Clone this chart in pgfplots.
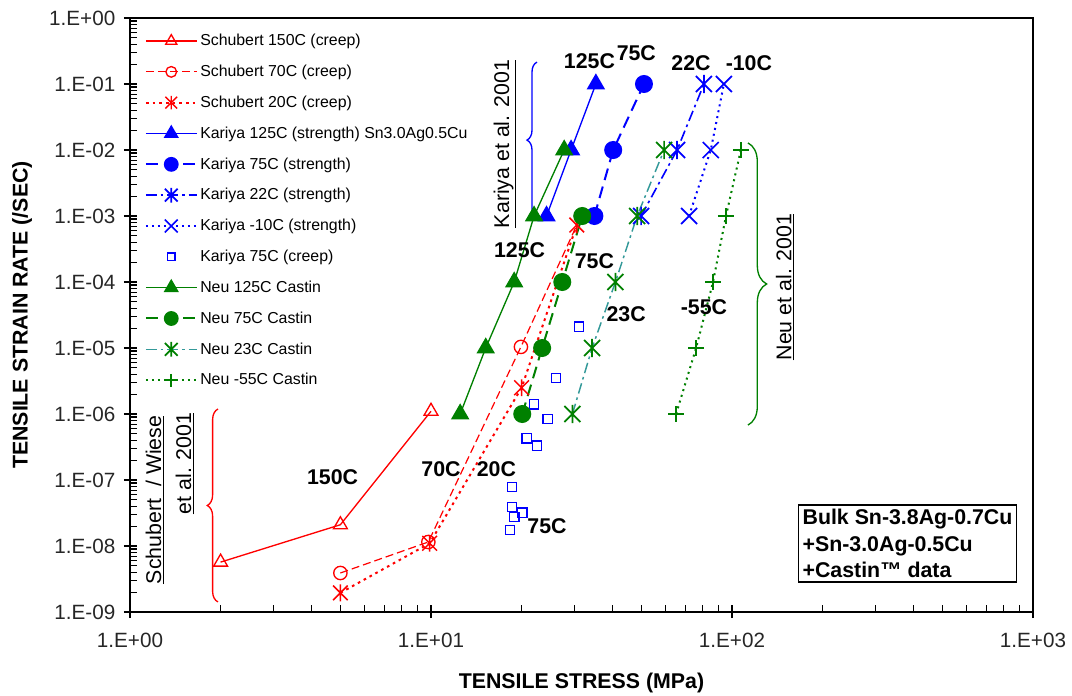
\documentclass[border=0pt]{standalone}
\usepackage{fontspec}
\setmainfont{Liberation Sans}
\usepackage{pgfplots}
\pgfplotsset{compat=1.18}
\usetikzlibrary{decorations.pathreplacing}

\definecolor{xred}{RGB}{255,0,0}
\definecolor{xblue}{RGB}{0,0,255}
\definecolor{xgreen}{RGB}{0,128,0}
\definecolor{xteal}{RGB}{51,153,153}

\pgfdeclareplotmark{bigx}{%
  \pgfpathmoveto{\pgfqpoint{-\pgfplotmarksize}{-\pgfplotmarksize}}%
  \pgfpathlineto{\pgfqpoint{\pgfplotmarksize}{\pgfplotmarksize}}%
  \pgfpathmoveto{\pgfqpoint{-\pgfplotmarksize}{\pgfplotmarksize}}%
  \pgfpathlineto{\pgfqpoint{\pgfplotmarksize}{-\pgfplotmarksize}}%
  \pgfusepathqstroke}
\pgfdeclareplotmark{xstar}{%
  \pgfpathmoveto{\pgfqpoint{-\pgfplotmarksize}{-\pgfplotmarksize}}%
  \pgfpathlineto{\pgfqpoint{\pgfplotmarksize}{\pgfplotmarksize}}%
  \pgfpathmoveto{\pgfqpoint{-\pgfplotmarksize}{\pgfplotmarksize}}%
  \pgfpathlineto{\pgfqpoint{\pgfplotmarksize}{-\pgfplotmarksize}}%
  \pgfpathmoveto{\pgfqpoint{0pt}{-1.15\pgfplotmarksize}}%
  \pgfpathlineto{\pgfqpoint{0pt}{1.15\pgfplotmarksize}}%
  \pgfusepathqstroke}

\newcommand{\lab}{\bfseries\fontsize{16}{19}\selectfont}
\newcommand{\labr}{\fontsize{16}{19}\selectfont}

\begin{document}
\begin{tikzpicture}
\begin{axis}[
  scale only axis, width=677.25pt, height=445.5pt,
  xmode=log, ymode=log,
  xmin=1, xmax=1000, ymin=1e-9, ymax=1,
  xtick={1,10,100,1000},
  xticklabels={1.E+00,1.E+01,1.E+02,1.E+03},
  ytick={1e-9,1e-8,1e-7,1e-6,1e-5,1e-4,1e-3,1e-2,1e-1,1},
  yticklabels={1.E-09,1.E-08,1.E-07,1.E-06,1.E-05,1.E-04,1.E-03,1.E-02,1.E-01,1.E+00},
  tick pos=left, tick align=inside,
  major tick length=9pt, minor tick length=5pt,
  every major x tick/.append style={yshift=-4.5pt},
  every major y tick/.append style={xshift=-4.5pt},
  tick style={black, line width=0.8pt},
  axis line style={line width=1.1pt},
  ticklabel style={font=\fontsize{15.5}{18}\selectfont, text=black!85},
  xticklabel style={yshift=-12pt},
  yticklabel style={xshift=-7.5pt},
  xlabel={TENSILE STRESS (MPa)},
  ylabel={TENSILE STRAIN RATE (/SEC)},
  label style={font=\bfseries\fontsize{16}{19}\selectfont},
  xlabel style={at={(axis description cs:0.5,-0.1195)}, anchor=center},
  ylabel style={at={(axis description cs:-0.1196,0.5)}, anchor=center},
  clip=false,
  legend image code/.code={%
    \draw[mark repeat=2, mark phase=2, #1, every mark/.append style={scale=0.8}]
      plot coordinates {(0pt,0pt) (19pt,0pt) (38pt,0pt)};},
  legend style={at={(axis description cs:0,1)}, anchor=north west,
    xshift=8pt, yshift=-8pt, draw=none, fill=none,
    font=\fontsize{11.9}{14}\selectfont, row sep=9pt},
  legend cell align=left,
]
\coordinate (sw) at (rel axis cs:0,0);
\coordinate (ne) at (rel axis cs:1,1);

% Schubert
\addplot[xred, line width=1pt, mark=triangle, mark size=6pt, mark options={solid, line width=1pt}]
  coordinates {(2,5.7e-9) (5,2.1e-8) (10,1.1e-6)};
\addlegendentry{Schubert 150C (creep)}
\addplot[xred, line width=0.9pt, dash pattern=on 6pt off 3pt, mark=o, mark size=5pt, mark options={solid, line width=1pt}]
  coordinates {(5,3.9e-9) (9.8,1.15e-8) (19.9,1.04e-5) (31.5,1e-3)};
\addlegendentry{Schubert 70C (creep)}
\addplot[xred, line width=1.5pt, dash pattern=on 2pt off 3pt, mark=xstar, mark size=5.5pt, mark options={solid, line width=1.1pt}]
  coordinates {(5,1.95e-9) (9.9,1.1e-8) (20,2.5e-6) (30.5,7.3e-4)};
\addlegendentry{Schubert 20C (creep)}

% Kariya
\addplot[xblue, line width=1pt, mark=triangle*, mark size=7pt, mark options={solid}]
  coordinates {(24.2,1e-3) (29.2,1e-2) (35.3,0.1)};
\addlegendentry{Kariya 125C (strength) Sn3.0Ag0.5Cu}
\addplot[xblue, line width=1.5pt, dash pattern=on 9pt off 5pt, mark=*, mark size=6pt, mark options={solid}]
  coordinates {(34.9,1e-3) (40.3,1e-2) (51,0.1)};
\addlegendentry{Kariya 75C (strength)}
\addplot[xblue, line width=1.2pt, dash pattern=on 8pt off 3pt on 2pt off 3pt, mark=xstar, mark size=6pt, mark options={solid, line width=1.3pt}]
  coordinates {(49.9,1e-3) (65.7,1e-2) (80.7,0.1)};
\addlegendentry{Kariya 22C (strength)}
\addplot[xblue, line width=1.5pt, dash pattern=on 1.5pt off 3pt, mark=bigx, mark size=6pt, mark options={solid, line width=1.3pt}]
  coordinates {(72,1e-3) (85,1e-2) (94,0.1)};
\addlegendentry{Kariya -10C (strength)}
\addplot[xblue, only marks, mark=square, mark size=3.5pt, mark options={solid, line width=1pt}]
  coordinates {(31.0,2.1e-5) (26.0,3.5e-6) (22.0,1.4e-6) (24.4,8.4e-7) (20.8,4.3e-7)
    (22.5,3.3e-7) (18.6,7.8e-8) (18.6,3.9e-8) (20.1,3.2e-8) (18.9,2.75e-8) (18.3,1.75e-8)};
\addlegendentry{Kariya 75C (creep)}

% Neu
\addplot[xgreen, line width=1pt, mark=triangle*, mark size=7pt, mark options={solid}]
  coordinates {(12.5,1e-6) (15.2,1e-5) (18.9,1e-4) (22,1e-3) (27.7,1e-2)};
\addlegendentry{Neu 125C Castin}
\addplot[xgreen, line width=1.5pt, dash pattern=on 9pt off 5pt, mark=*, mark size=6pt, mark options={solid}]
  coordinates {(20.1,1e-6) (23.4,1e-5) (27.3,1e-4) (31.8,1e-3)};
\addlegendentry{Neu 75C Castin}
\addplot[xteal, line width=1.1pt, dash pattern=on 8pt off 3pt on 2pt off 3pt, mark=xstar, mark size=6pt, mark options={solid, draw=xgreen, line width=1.3pt}]
  coordinates {(29.5,1e-6) (34.3,1e-5) (41,1e-4) (48.4,1e-3) (59.5,1e-2)};
\addlegendentry{Neu 23C Castin}
\addplot[xgreen, line width=1.5pt, dash pattern=on 1.5pt off 3pt, mark=+, mark size=6pt, mark options={solid, line width=1.2pt}]
  coordinates {(65.2,1e-6) (76,1e-5) (86.5,1e-4) (95.5,1e-3) (107,1e-2)};
\addlegendentry{Neu -55C Castin}

% braces
\draw[xblue, line width=1pt, decorate, decoration={brace, amplitude=7.5pt}]
  (axis cs:22.5,9.3e-4) -- (axis cs:22.5,0.215);
\draw[xgreen, line width=1pt, decorate, decoration={brace, amplitude=14pt}]
  (axis cs:113,0.0128) -- (axis cs:113,6.8e-7);
\draw[xred, line width=1pt, decorate, decoration={brace, amplitude=8pt}]
  (axis cs:1.96,1.42e-9) -- (axis cs:1.96,1.19e-6);

% group labels
\node[rotate=90, font=\labr] at (axis cs:17.6,0.0123) {\underline{Kariya et al. 2001}};
\node[rotate=90, font=\labr] at (axis cs:150,8.4e-5) {\underline{Neu et al. 2001}};
\node[rotate=90, font=\labr] at (axis cs:1.21,5.0e-8) {\underline{Schubert\ \ / Wiese}};
\node[rotate=90, font=\labr] at (axis cs:1.52,1.78e-7) {\underline{et al. 2001}};

% temperature labels
\node[font=\lab] at (axis cs:4.71,1.12e-7) {150C};
\node[font=\lab] at (axis cs:10.8,1.44e-7) {70C};
\node[font=\lab] at (axis cs:16.5,1.44e-7) {20C};
\node[font=\lab] at (axis cs:24.3,2.0e-8) {75C};
\node[font=\lab] at (axis cs:19.7,3.0e-4) {125C};
\node[font=\lab] at (axis cs:34.9,2.1e-4) {75C};
\node[font=\lab] at (axis cs:44.5,3.2e-5) {23C};
\node[font=\lab] at (axis cs:80.7,4.2e-5) {-55C};
\node[font=\lab] at (axis cs:33.6,0.224) {125C};
\node[font=\lab] at (axis cs:48.1,0.296) {75C};
\node[font=\lab] at (axis cs:73.1,0.21) {22C};
\node[font=\lab] at (axis cs:113.8,0.21) {-10C};

% info box
\node[draw, line width=1pt, align=left, inner sep=3pt,
  font=\bfseries\fontsize{16}{20}\selectfont] at (axis cs:383,1.09e-8)
  {Bulk Sn-3.8Ag-0.7Cu\\+Sn-3.0Ag-0.5Cu\\+Castin™ data};
\end{axis}
\pgfresetboundingbox
\path[use as bounding box] ([xshift=-97.5pt,yshift=-63pt]sw) rectangle ([xshift=29.25pt,yshift=13.5pt]ne);
\end{tikzpicture}
\end{document}
